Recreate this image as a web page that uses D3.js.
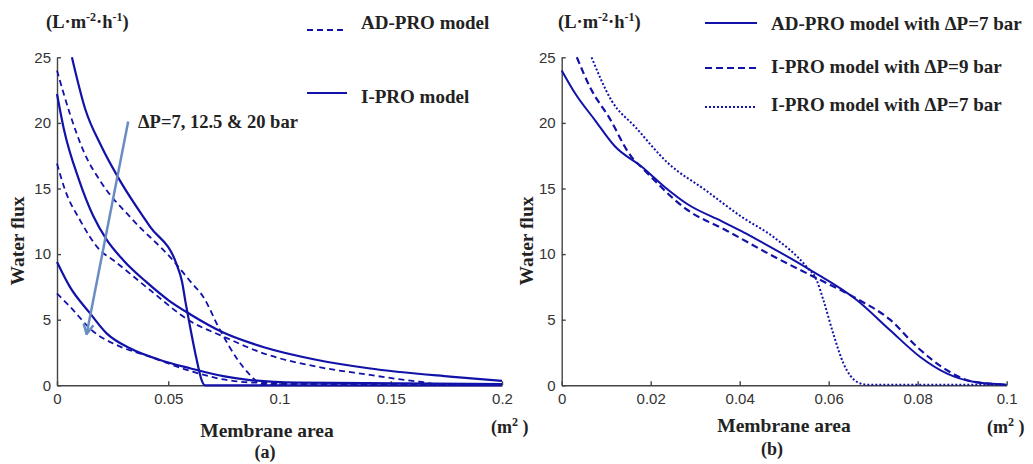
<!DOCTYPE html>
<html>
<head>
<meta charset="utf-8">
<script src="https://cdn.jsdelivr.net/npm/d3@7"></script>
<style>
  body { margin: 0; background: #fff; }
  .tick text { font-family: "Liberation Sans", Arial, sans-serif; font-size: 15px; fill: #333; }
  .tick line, .domain { stroke: #444; stroke-width: 1.4; }
  .lab { font-family: "Liberation Serif", "Times New Roman", serif; font-weight: bold; fill: #222; }
</style>
</head>
<body>
<svg id="chart" width="1033" height="464"></svg>
<script>
// ---- panel (a): water flux vs membrane area, three pressures, two models
var adPro20 = [[0,24.0],[0.0058,20.7],[0.0118,17.9],[0.0201,15.4],[0.033,12.8],[0.052,9.55],[0.06,7.9],[0.0657,6.75],[0.0733,4.2],[0.0813,1.93],[0.0867,0.8],[0.092,0.1],[0.2,0.05]];
var iPro20  = [[0.0067,25],[0.0126,21.1],[0.02,18.2],[0.0283,15.6],[0.0418,12.1],[0.0538,9.2],[0.0562,7.9],[0.0578,6.3],[0.0598,4.47],[0.0628,1.93],[0.065,0.4],[0.0665,0],[0.2,0]];
var adPro12 = [[0,16.9],[0.0036,14.9],[0.0103,12.6],[0.0193,10.3],[0.0252,9.55],[0.0418,7.26],[0.0598,4.9],[0.075,3.7],[0.0927,2.44],[0.1167,1.42],[0.1407,0.79],[0.151,0.53],[0.163,0.27],[0.172,0.05],[0.2,0.05]];
var iPro12  = [[0,22.2],[0.003,19.6],[0.01,15.6],[0.0163,12.9],[0.0223,11.1],[0.03,9.5],[0.04,7.9],[0.05,6.5],[0.06,5.4],[0.075,4.0],[0.093,2.9],[0.117,1.93],[0.14,1.3],[0.1766,0.66],[0.2,0.33]];
var adPro7  = [[0,7.0],[0.0058,6.0],[0.0163,4.1],[0.0268,3.07],[0.0418,2.18],[0.0598,1.1],[0.0747,0.45],[0.0898,0.2],[0.16,0.05]];
var iPro7   = [[0,9.4],[0.0058,7.5],[0.0148,5.5],[0.0223,3.96],[0.0328,2.82],[0.0463,1.93],[0.0598,1.3],[0.0747,0.7],[0.0867,0.4],[0.108,0.2],[0.2,0.1]];
var arrowA  = [[0.032,20.1],[0.0133,3.9]];

// ---- panel (b)
var bAdPro7 = [[0,24.0],[0.003,22.26],[0.0075,20.2],[0.012,18.2],[0.018,16.66],[0.0232,15.1],[0.0283,13.8],[0.036,12.5],[0.0404,11.75],[0.0434,11.2],[0.0558,8.8],[0.0663,6.5],[0.0738,4.2],[0.0805,2.18],[0.0865,0.91],[0.0925,0.27],[0.1,0.05]];
var bIPro9  = [[0.0034,25],[0.0067,22.5],[0.0105,20.5],[0.0157,17.4],[0.018,16.6],[0.0281,13.4],[0.037,11.8],[0.0483,9.7],[0.0565,8.3],[0.0663,6.6],[0.0738,5.0],[0.0798,2.94],[0.0865,1.17],[0.0925,0.27],[0.1,0.05]];
var bIPro7  = [[0.0067,25],[0.0112,21.7],[0.0165,19.7],[0.024,16.9],[0.0322,14.9],[0.0404,12.85],[0.0476,11.3],[0.055,9.04],[0.0573,8.0],[0.0588,6.5],[0.061,3.96],[0.0633,1.68],[0.0663,0.27],[0.0685,0.05],[0.1,0.05]];

var yTicks = [0, 5, 10, 15, 20, 25];
var xTicksA = [0, 0.05, 0.1, 0.15, 0.2];
var xTicksB = [0, 0.02, 0.04, 0.06, 0.08, 0.1];

var blue = "#1212a8";
var svg = d3.select("#chart");

svg.append("defs").append("marker")
  .attr("id", "vhead")
  .attr("viewBox", "0 0 10 10").attr("refX", 9).attr("refY", 5)
  .attr("markerWidth", 5).attr("markerHeight", 5)
  .attr("orient", "auto")
  .append("path").attr("d", "M1,1 L9,5 L1,9")
  .attr("fill", "none").attr("stroke", "#6a8cc2").attr("stroke-width", 2);

function panel(xDomain, xRange, xTicks, fmt) {
  var x = d3.scaleLinear().domain(xDomain).range(xRange);
  var y = d3.scaleLinear().domain([0, 25]).range([385.3, 57.3]);
  var g = svg.append("g");
  g.append("g").attr("transform", "translate(0,385.3)")
    .call(d3.axisBottom(x).tickValues(xTicks).tickFormat(fmt).tickSize(-4).tickSizeOuter(0).tickPadding(8));
  g.append("g").attr("transform", "translate(" + xRange[0] + ",0)")
    .call(d3.axisLeft(y).tickValues(yTicks).tickSize(-4).tickSizeOuter(0).tickPadding(6));
  return { g: g, x: x, y: y };
}

function draw(p, data, dash, width) {
  var line = d3.line().x(function(d) { return p.x(d[0]); }).y(function(d) { return p.y(d[1]); })
    .curve(d3.curveMonotoneX);
  p.g.append("path").datum(data).attr("d", line)
    .attr("fill", "none").attr("stroke", blue).attr("stroke-width", width)
    .attr("stroke-dasharray", dash);
}

function unitLabel(x, y) {
  var t = svg.append("text").attr("class", "lab").attr("x", x).attr("y", y).style("font-size", "18.5px");
  t.append("tspan").text("(L·m");
  t.append("tspan").attr("baseline-shift", "super").style("font-size", "12px").text("-2");
  t.append("tspan").text("·h");
  t.append("tspan").attr("baseline-shift", "super").style("font-size", "12px").text("-1");
  t.append("tspan").text(")");
}
function areaUnit(x, y) {
  var t = svg.append("text").attr("class", "lab").attr("x", x).attr("y", y).style("font-size", "18px");
  t.append("tspan").text("(m");
  t.append("tspan").attr("baseline-shift", "super").style("font-size", "12px").text("2");
  t.append("tspan").text(" )");
}
function legendEntry(x1, x2, ly, dash, label, ty) {
  svg.append("line").attr("x1", x1).attr("x2", x2).attr("y1", ly).attr("y2", ly)
    .attr("stroke", blue).attr("stroke-width", 2).attr("stroke-dasharray", dash);
  svg.append("text").attr("class", "lab").attr("x", x2 + 14).attr("y", ty)
    .style("font-size", "19px").text(label);
}

// ---- (a)
var pa = panel([0, 0.2], [57, 502], xTicksA, d3.format("~g"));
draw(pa, iPro20, null, 2.2);
draw(pa, adPro20, "6,4", 1.8);
draw(pa, iPro12, null, 2.2);
draw(pa, adPro12, "6,4", 1.8);
draw(pa, iPro7, null, 2.2);
draw(pa, adPro7, "6,4", 1.8);
pa.g.append("line")
  .attr("x1", pa.x(arrowA[0][0])).attr("y1", pa.y(arrowA[0][1]))
  .attr("x2", pa.x(arrowA[1][0])).attr("y2", pa.y(arrowA[1][1]))
  .attr("stroke", "#6a8cc2").attr("stroke-width", 2.5).attr("marker-end", "url(#vhead)");
svg.append("text").attr("class", "lab").attr("x", 138).attr("y", 128)
  .style("font-size", "18.5px").text("ΔP=7, 12.5 & 20 bar");

unitLabel(46, 28);
legendEntry(307, 347, 30, "6,4", "AD-PRO model", 29);
legendEntry(307, 347, 93, null, "I-PRO model", 103);
svg.append("text").attr("class", "lab").attr("transform", "translate(24,241) rotate(-90)")
  .attr("text-anchor", "middle").style("font-size", "19.5px").text("Water flux");
svg.append("text").attr("class", "lab").attr("x", 267).attr("y", 437)
  .attr("text-anchor", "middle").style("font-size", "19.5px").text("Membrane area");
svg.append("text").attr("class", "lab").attr("x", 265).attr("y", 458)
  .attr("text-anchor", "middle").style("font-size", "18px").text("(a)");
areaUnit(491, 433);

// ---- (b)
var pb = panel([0, 0.1], [561.7, 1006.7], xTicksB, d3.format("~g"));
draw(pb, bAdPro7, null, 2);
draw(pb, bIPro9, "7,4", 2.2);
draw(pb, bIPro7, "2,2", 2);

unitLabel(558, 28);
legendEntry(705, 757, 23, null, "AD-PRO model with ΔP=7 bar", 30);
legendEntry(705, 757, 68, "7,4", "I-PRO model with ΔP=9 bar", 73);
legendEntry(705, 757, 107, "2,2", "I-PRO model with ΔP=7 bar", 111);
svg.append("text").attr("class", "lab").attr("transform", "translate(533,241) rotate(-90)")
  .attr("text-anchor", "middle").style("font-size", "19.5px").text("Water flux");
svg.append("text").attr("class", "lab").attr("x", 784).attr("y", 432)
  .attr("text-anchor", "middle").style("font-size", "19.5px").text("Membrane area");
svg.append("text").attr("class", "lab").attr("x", 772).attr("y", 455)
  .attr("text-anchor", "middle").style("font-size", "18px").text("(b)");
areaUnit(987, 433);
</script>
</body>
</html>
